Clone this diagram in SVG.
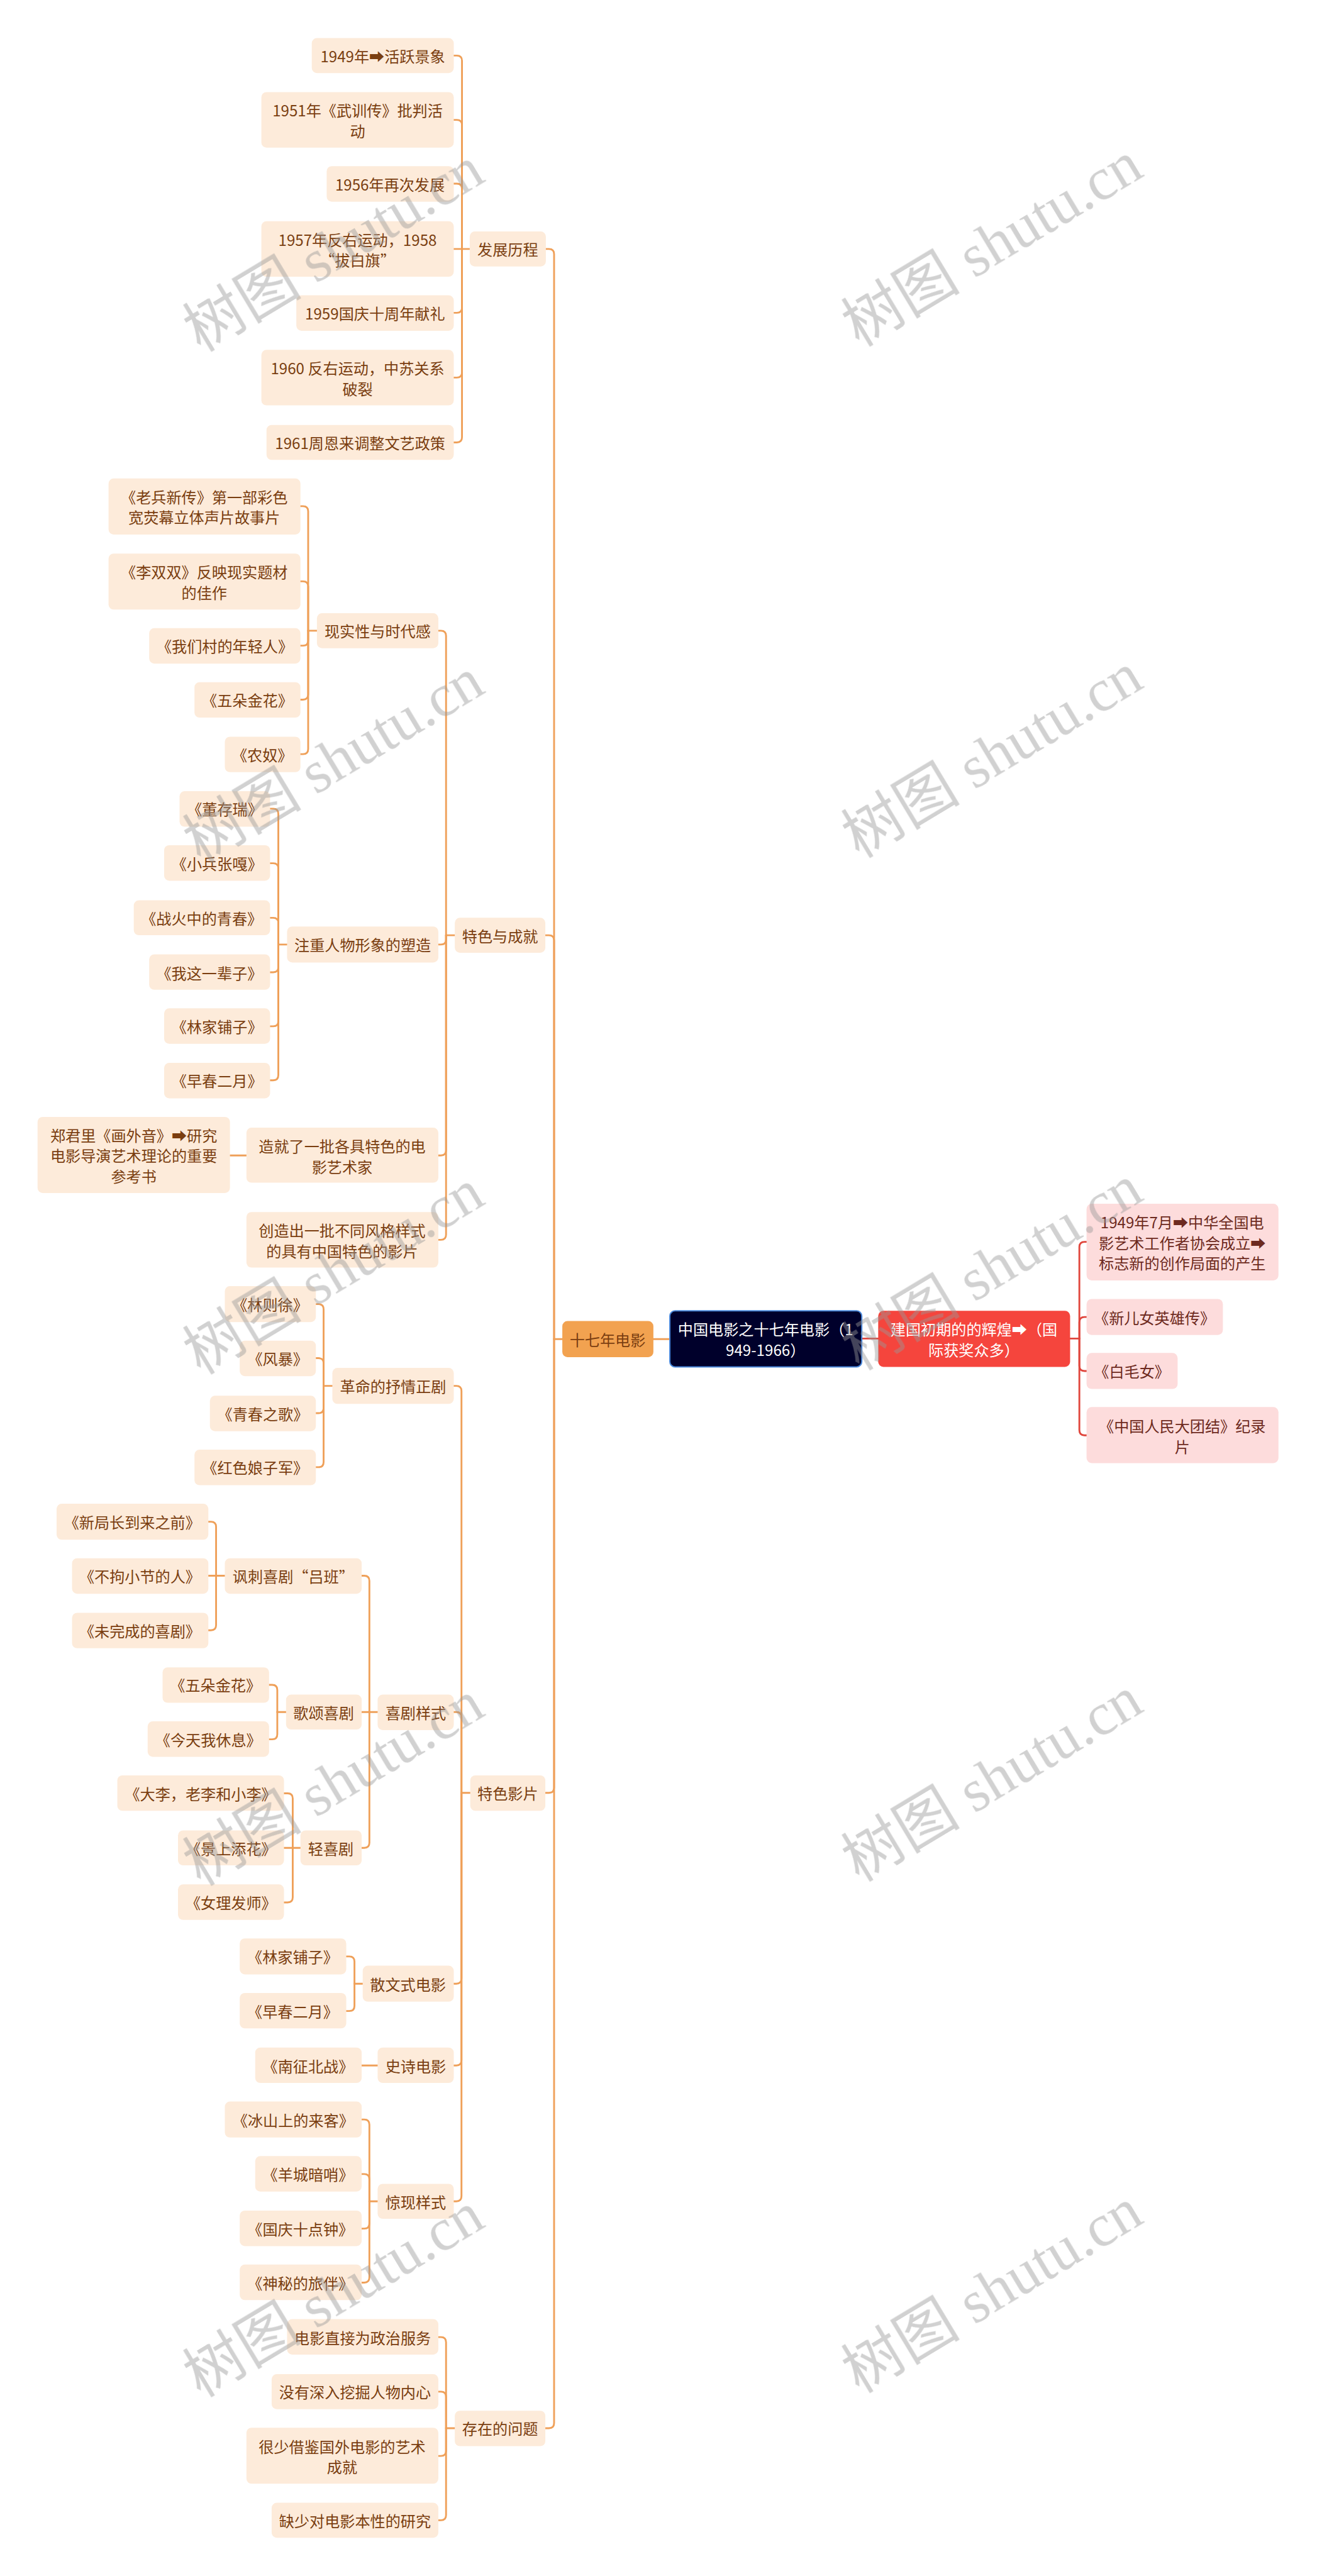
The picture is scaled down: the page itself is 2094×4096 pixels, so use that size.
<svg xmlns="http://www.w3.org/2000/svg" width="2094" height="4096" viewBox="0 0 2094 4096">
<style>
.n rect{fill:#FDEBDA}
.t{font-family:"Noto Sans CJK SC","Noto Sans","DejaVu Sans",sans-serif;font-size:29.5px;fill:#7A3E10;text-anchor:middle;dominant-baseline:central}
.w{fill:#FFFFFF}
.pk rect{fill:#FDDCDC}
.pk .t{fill:#6D2A20}
.c path{fill:none;stroke:#EFA059;stroke-width:3.5;stroke-linecap:round;stroke-linejoin:round}
.c path.r{stroke:#E0463D}
.wm{font-family:"Liberation Serif","Noto Sans CJK SC",serif;font-size:116px;fill:#999999;opacity:0.45}
</style>
<rect x="0" y="0" width="2094" height="4096" fill="#FFFFFF"/>
<g transform="scale(0.818)">
<g id="connectors" class="c">
<path d="M1270 2603H1302"/>
<path class="r" d="M1675 2602H1707"/>
<path d="M1061 484H1067Q1077 484 1077 494V2603"/>
<path d="M1060 1818H1067Q1077 1818 1077 1828V2603"/>
<path d="M1060 3485H1067Q1077 3485 1077 3475V2603"/>
<path d="M1060 4720H1067Q1077 4720 1077 4710V2603"/>
<path d="M1077 2603H1093"/>
<path d="M882 108H888Q898 108 898 118V484"/>
<path d="M882 233H888Q898 233 898 243V484"/>
<path d="M882 357H888Q898 357 898 367V484"/>
<path d="M882 484H898"/>
<path d="M882 608H888Q898 608 898 598V484"/>
<path d="M882 734H888Q898 734 898 724V484"/>
<path d="M882 860H888Q898 860 898 850V484"/>
<path d="M898 484H913"/>
<path d="M852 1226H857Q867 1226 867 1236V1818"/>
<path d="M852 1836H857Q867 1836 867 1826V1818"/>
<path d="M852 2246H857Q867 2246 867 2236V1818"/>
<path d="M852 2410H857Q867 2410 867 2400V1818"/>
<path d="M867 1818H884"/>
<path d="M584 984H589Q599 984 599 994V1226"/>
<path d="M584 1130H589Q599 1130 599 1140V1226"/>
<path d="M584 1255H589Q599 1255 599 1245V1226"/>
<path d="M584 1360H589Q599 1360 599 1350V1226"/>
<path d="M584 1466H589Q599 1466 599 1456V1226"/>
<path d="M599 1226H616"/>
<path d="M525 1572H531Q541 1572 541 1582V1836"/>
<path d="M525 1678H531Q541 1678 541 1688V1836"/>
<path d="M525 1784H531Q541 1784 541 1794V1836"/>
<path d="M525 1890H531Q541 1890 541 1880V1836"/>
<path d="M525 1995H531Q541 1995 541 1985V1836"/>
<path d="M525 2100H531Q541 2100 541 2090V1836"/>
<path d="M541 1836H558"/>
<path d="M447 2246H479"/>
<path d="M882 2694H887Q897 2694 897 2704V3485"/>
<path d="M882 3328H887Q897 3328 897 3338V3485"/>
<path d="M882 3856H887Q897 3856 897 3846V3485"/>
<path d="M882 4015H887Q897 4015 897 4005V3485"/>
<path d="M882 4279H887Q897 4279 897 4269V3485"/>
<path d="M897 3485H914"/>
<path d="M614 2535H619Q629 2535 629 2545V2694"/>
<path d="M614 2640H619Q629 2640 629 2650V2694"/>
<path d="M614 2747H619Q629 2747 629 2737V2694"/>
<path d="M614 2852H619Q629 2852 629 2842V2694"/>
<path d="M629 2694H646"/>
<path d="M703 3063H708Q718 3063 718 3073V3328"/>
<path d="M703 3328H718"/>
<path d="M703 3592H708Q718 3592 718 3582V3328"/>
<path d="M718 3328H734"/>
<path d="M405 2958H410Q420 2958 420 2968V3063"/>
<path d="M405 3063H420"/>
<path d="M405 3169H410Q420 3169 420 3159V3063"/>
<path d="M420 3063H437"/>
<path d="M523 3275H529Q539 3275 539 3285V3328"/>
<path d="M523 3381H529Q539 3381 539 3371V3328"/>
<path d="M539 3328H556"/>
<path d="M552 3486H559Q569 3486 569 3496V3592"/>
<path d="M552 3592H569"/>
<path d="M552 3698H559Q569 3698 569 3688V3592"/>
<path d="M569 3592H584"/>
<path d="M673 3803H679Q689 3803 689 3813V3856"/>
<path d="M673 3909H679Q689 3909 689 3899V3856"/>
<path d="M689 3856H705"/>
<path d="M703 4015H734"/>
<path d="M703 4120H708Q718 4120 718 4130V4279"/>
<path d="M703 4226H708Q718 4226 718 4236V4279"/>
<path d="M703 4332H708Q718 4332 718 4322V4279"/>
<path d="M703 4437H708Q718 4437 718 4427V4279"/>
<path d="M718 4279H734"/>
<path d="M852 4543H857Q867 4543 867 4553V4720"/>
<path d="M852 4649H857Q867 4649 867 4659V4720"/>
<path d="M852 4774H857Q867 4774 867 4764V4720"/>
<path d="M852 4899H857Q867 4899 867 4889V4720"/>
<path d="M867 4720H884"/>
<path class="r" d="M2112 2414H2108Q2098 2414 2098 2424V2602"/>
<path class="r" d="M2112 2560H2108Q2098 2560 2098 2570V2602"/>
<path class="r" d="M2112 2665H2108Q2098 2665 2098 2655V2602"/>
<path class="r" d="M2112 2790H2108Q2098 2790 2098 2780V2602"/>
<path class="r" d="M2080 2602H2098"/>
</g>

<g id="root"><rect x="1302" y="2548" width="373" height="109" rx="10" fill="#00002B" stroke="#4A88DA" stroke-width="2.5"/><text class="t w" x="1488" y="2582"><tspan x="1488">中国电影之十七年电影（1</tspan><tspan x="1488" dy="40">949-1966）</tspan></text></g>
<g id="n0"><rect x="1093" y="2568" width="177" height="70" rx="10" fill="#F2A250"/><text class="t" x="1181" y="2603" fill="#6B3A10">十七年电影</text></g>
<g id="nR"><rect x="1707" y="2548" width="373" height="109" rx="10" fill="#F5453D"/><text class="t w" x="1893" y="2582"><tspan x="1893">建国初期的的辉煌➡（国</tspan><tspan x="1893" dy="40">际获奖众多）</tspan></text></g>
<g id="nR1" class="pk"><rect x="2112" y="2340" width="373" height="149" rx="10"/><text class="t" x="2298" y="2374"><tspan x="2298">1949年7月➡中华全国电</tspan><tspan x="2298" dy="40">影艺术工作者协会成立➡</tspan><tspan x="2298" dy="40">标志新的创作局面的产生</tspan></text></g>
<g id="nR2" class="pk"><rect x="2112" y="2525" width="265" height="70" rx="10"/><text class="t" x="2244" y="2560">《新儿女英雄传》</text></g>
<g id="nR3" class="pk"><rect x="2112" y="2630" width="177" height="70" rx="10"/><text class="t" x="2200" y="2665">《白毛女》</text></g>
<g id="nR4" class="pk"><rect x="2112" y="2735" width="373" height="109" rx="10"/><text class="t" x="2298" y="2770"><tspan x="2298">《中国人民大团结》纪录</tspan><tspan x="2298" dy="40">片</tspan></text></g>

<g id="n1" class="n"><rect x="913" y="450" width="148" height="68" rx="10"/><text class="t" x="987" y="484">发展历程</text></g>
<g id="n1a" class="n"><rect x="606" y="74" width="276" height="68" rx="10"/><text class="t" x="744" y="108">1949年➡活跃景象</text></g>
<g id="n1b" class="n"><rect x="508" y="179" width="374" height="108" rx="10"/><text class="t" x="695" y="213"><tspan x="695">1951年《武训传》批判活</tspan><tspan x="695" dy="40">动</tspan></text></g>
<g id="n1c" class="n"><rect x="635" y="323" width="247" height="69" rx="10"/><text class="t" x="758" y="357">1956年再次发展</text></g>
<g id="n1d" class="n"><rect x="508" y="430" width="374" height="108" rx="10"/><text class="t" x="695" y="464"><tspan x="695">1957年反右运动，1958</tspan><tspan x="695" dy="40">“拔白旗”</tspan></text></g>
<g id="n1e" class="n"><rect x="576" y="574" width="306" height="69" rx="10"/><text class="t" x="729" y="608">1959国庆十周年献礼</text></g>
<g id="n1f" class="n"><rect x="508" y="680" width="374" height="108" rx="10"/><text class="t" x="695" y="714"><tspan x="695">1960 反右运动，中苏关系</tspan><tspan x="695" dy="40">破裂</tspan></text></g>
<g id="n1g" class="n"><rect x="518" y="826" width="364" height="68" rx="10"/><text class="t" x="700" y="860">1961周恩来调整文艺政策</text></g>

<g id="n2" class="n"><rect x="884" y="1784" width="176" height="68" rx="10"/><text class="t" x="972" y="1818">特色与成就</text></g>
<g id="n2a" class="n"><rect x="616" y="1192" width="236" height="68" rx="10"/><text class="t" x="734" y="1226">现实性与时代感</text></g>
<g id="n2a1" class="n"><rect x="211" y="930" width="373" height="109" rx="10"/><text class="t" x="397" y="964"><tspan x="397">《老兵新传》第一部彩色</tspan><tspan x="397" dy="40">宽荧幕立体声片故事片</tspan></text></g>
<g id="n2a2" class="n"><rect x="211" y="1076" width="373" height="109" rx="10"/><text class="t" x="397" y="1110"><tspan x="397">《李双双》反映现实题材</tspan><tspan x="397" dy="40">的佳作</tspan></text></g>
<g id="n2a3" class="n"><rect x="290" y="1221" width="294" height="69" rx="10"/><text class="t" x="437" y="1255">《我们村的年轻人》</text></g>
<g id="n2a4" class="n"><rect x="378" y="1326" width="206" height="69" rx="10"/><text class="t" x="481" y="1360">《五朵金花》</text></g>
<g id="n2a5" class="n"><rect x="437" y="1432" width="147" height="69" rx="10"/><text class="t" x="510" y="1466">《农奴》</text></g>
<g id="n2b" class="n"><rect x="558" y="1801" width="294" height="70" rx="10"/><text class="t" x="705" y="1836">注重人物形象的塑造</text></g>
<g id="n2b1" class="n"><rect x="349" y="1538" width="176" height="69" rx="10"/><text class="t" x="437" y="1572">《董存瑞》</text></g>
<g id="n2b2" class="n"><rect x="319" y="1643" width="206" height="69" rx="10"/><text class="t" x="422" y="1678">《小兵张嘎》</text></g>
<g id="n2b3" class="n"><rect x="260" y="1750" width="265" height="68" rx="10"/><text class="t" x="392" y="1784">《战火中的青春》</text></g>
<g id="n2b4" class="n"><rect x="290" y="1855" width="235" height="69" rx="10"/><text class="t" x="407" y="1890">《我这一辈子》</text></g>
<g id="n2b5" class="n"><rect x="319" y="1960" width="206" height="69" rx="10"/><text class="t" x="422" y="1995">《林家铺子》</text></g>
<g id="n2b6" class="n"><rect x="319" y="2066" width="206" height="69" rx="10"/><text class="t" x="422" y="2100">《早春二月》</text></g>
<g id="n2c" class="n"><rect x="479" y="2192" width="373" height="107" rx="10"/><text class="t" x="665" y="2226"><tspan x="665">造就了一批各具特色的电</tspan><tspan x="665" dy="40">影艺术家</tspan></text></g>
<g id="n2c1" class="n"><rect x="73" y="2171" width="374" height="148" rx="10"/><text class="t" x="260" y="2205"><tspan x="260">郑君里《画外音》➡研究</tspan><tspan x="260" dy="40">电影导演艺术理论的重要</tspan><tspan x="260" dy="40">参考书</tspan></text></g>
<g id="n2d" class="n"><rect x="479" y="2356" width="373" height="108" rx="10"/><text class="t" x="665" y="2390"><tspan x="665">创造出一批不同风格样式</tspan><tspan x="665" dy="40">的具有中国特色的影片</tspan></text></g>

<g id="n3" class="n"><rect x="914" y="3451" width="146" height="69" rx="10"/><text class="t" x="987" y="3485">特色影片</text></g>
<g id="n3a" class="n"><rect x="646" y="2659" width="236" height="70" rx="10"/><text class="t" x="764" y="2694">革命的抒情正剧</text></g>
<g id="n3a1" class="n"><rect x="437" y="2500" width="177" height="70" rx="10"/><text class="t" x="525" y="2535">《林则徐》</text></g>
<g id="n3a2" class="n"><rect x="466" y="2606" width="148" height="69" rx="10"/><text class="t" x="540" y="2640">《风暴》</text></g>
<g id="n3a3" class="n"><rect x="408" y="2713" width="206" height="69" rx="10"/><text class="t" x="511" y="2747">《青春之歌》</text></g>
<g id="n3a4" class="n"><rect x="378" y="2818" width="236" height="69" rx="10"/><text class="t" x="496" y="2852">《红色娘子军》</text></g>
<g id="n3b" class="n"><rect x="734" y="3294" width="148" height="69" rx="10"/><text class="t" x="808" y="3328">喜剧样式</text></g>
<g id="n3b1" class="n"><rect x="437" y="3029" width="266" height="69" rx="10"/><text class="t" x="570" y="3063">讽刺喜剧“吕班”</text></g>
<g id="n3b11" class="n"><rect x="110" y="2923" width="295" height="70" rx="10"/><text class="t" x="257" y="2958">《新局长到来之前》</text></g>
<g id="n3b12" class="n"><rect x="140" y="3029" width="265" height="69" rx="10"/><text class="t" x="272" y="3063">《不拘小节的人》</text></g>
<g id="n3b13" class="n"><rect x="140" y="3135" width="265" height="69" rx="10"/><text class="t" x="272" y="3169">《未完成的喜剧》</text></g>
<g id="n3b2" class="n"><rect x="556" y="3294" width="147" height="68" rx="10"/><text class="t" x="629" y="3328">歌颂喜剧</text></g>
<g id="n3b21" class="n"><rect x="316" y="3241" width="207" height="69" rx="10"/><text class="t" x="419" y="3275">《五朵金花》</text></g>
<g id="n3b22" class="n"><rect x="287" y="3346" width="236" height="69" rx="10"/><text class="t" x="405" y="3381">《今天我休息》</text></g>
<g id="n3b3" class="n"><rect x="584" y="3558" width="119" height="68" rx="10"/><text class="t" x="643" y="3592">轻喜剧</text></g>
<g id="n3b31" class="n"><rect x="228" y="3451" width="324" height="69" rx="10"/><text class="t" x="390" y="3486">《大李，老李和小李》</text></g>
<g id="n3b32" class="n"><rect x="346" y="3558" width="206" height="68" rx="10"/><text class="t" x="449" y="3592">《景上添花》</text></g>
<g id="n3b33" class="n"><rect x="346" y="3663" width="206" height="69" rx="10"/><text class="t" x="449" y="3698">《女理发师》</text></g>
<g id="n3c" class="n"><rect x="705" y="3821" width="177" height="70" rx="10"/><text class="t" x="793" y="3856">散文式电影</text></g>
<g id="n3c1" class="n"><rect x="466" y="3768" width="207" height="70" rx="10"/><text class="t" x="569" y="3803">《林家铺子》</text></g>
<g id="n3c2" class="n"><rect x="466" y="3874" width="207" height="69" rx="10"/><text class="t" x="569" y="3909">《早春二月》</text></g>
<g id="n3d" class="n"><rect x="734" y="3980" width="148" height="69" rx="10"/><text class="t" x="808" y="4015">史诗电影</text></g>
<g id="n3d1" class="n"><rect x="496" y="3980" width="207" height="69" rx="10"/><text class="t" x="599" y="4015">《南征北战》</text></g>
<g id="n3e" class="n"><rect x="734" y="4245" width="148" height="68" rx="10"/><text class="t" x="808" y="4279">惊现样式</text></g>
<g id="n3e1" class="n"><rect x="437" y="4085" width="266" height="70" rx="10"/><text class="t" x="570" y="4120">《冰山上的来客》</text></g>
<g id="n3e2" class="n"><rect x="496" y="4191" width="207" height="69" rx="10"/><text class="t" x="599" y="4226">《羊城暗哨》</text></g>
<g id="n3e3" class="n"><rect x="466" y="4297" width="237" height="69" rx="10"/><text class="t" x="584" y="4332">《国庆十点钟》</text></g>
<g id="n3e4" class="n"><rect x="466" y="4402" width="237" height="69" rx="10"/><text class="t" x="584" y="4437">《神秘的旅伴》</text></g>

<g id="n4" class="n"><rect x="884" y="4686" width="176" height="69" rx="10"/><text class="t" x="972" y="4720">存在的问题</text></g>
<g id="n4a" class="n"><rect x="558" y="4508" width="294" height="69" rx="10"/><text class="t" x="705" y="4543">电影直接为政治服务</text></g>
<g id="n4b" class="n"><rect x="528" y="4615" width="324" height="68" rx="10"/><text class="t" x="690" y="4649">没有深入挖掘人物内心</text></g>
<g id="n4c" class="n"><rect x="479" y="4719" width="373" height="109" rx="10"/><text class="t" x="665" y="4754"><tspan x="665">很少借鉴国外电影的艺术</tspan><tspan x="665" dy="40">成就</tspan></text></g>
<g id="n4d" class="n"><rect x="528" y="4865" width="324" height="68" rx="10"/><text class="t" x="690" y="4899">缺少对电影本性的研究</text></g>

<g id="watermarks" class="wm">
<text x="390" y="686" transform="rotate(-31 390 686)" textLength="650" lengthAdjust="spacing">树图 shutu.cn</text>
<text x="1670" y="676" transform="rotate(-31 1670 676)" textLength="650" lengthAdjust="spacing">树图 shutu.cn</text>
<text x="390" y="1680" transform="rotate(-31 390 1680)" textLength="650" lengthAdjust="spacing">树图 shutu.cn</text>
<text x="1670" y="1670" transform="rotate(-31 1670 1670)" textLength="650" lengthAdjust="spacing">树图 shutu.cn</text>
<text x="390" y="2674" transform="rotate(-31 390 2674)" textLength="650" lengthAdjust="spacing">树图 shutu.cn</text>
<text x="1670" y="2666" transform="rotate(-31 1670 2666)" textLength="650" lengthAdjust="spacing">树图 shutu.cn</text>
<text x="390" y="3668" transform="rotate(-31 390 3668)" textLength="650" lengthAdjust="spacing">树图 shutu.cn</text>
<text x="1670" y="3660" transform="rotate(-31 1670 3660)" textLength="650" lengthAdjust="spacing">树图 shutu.cn</text>
<text x="390" y="4662" transform="rotate(-31 390 4662)" textLength="650" lengthAdjust="spacing">树图 shutu.cn</text>
<text x="1670" y="4654" transform="rotate(-31 1670 4654)" textLength="650" lengthAdjust="spacing">树图 shutu.cn</text>
</g>
</g>
</svg>
